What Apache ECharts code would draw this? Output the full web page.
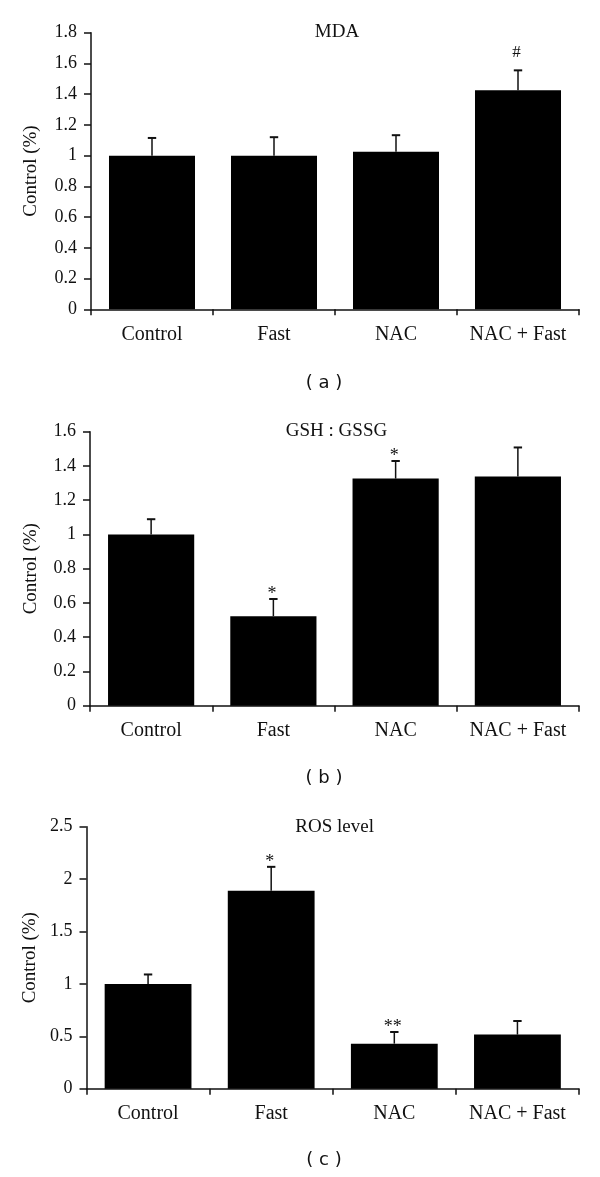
<!DOCTYPE html>
<html>
<head>
<meta charset="utf-8">
<script src="https://cdn.jsdelivr.net/npm/echarts@6/dist/echarts.min.js"></script>
<style>
html,body{margin:0;padding:0;background:#fff;}
#chart{width:600px;height:1177px;}
</style>
</head>
<body>
<div id="chart"></div>
<script>
// ---- data ----
const categories = ['Control', 'Fast', 'NAC', 'NAC + Fast'];

const mdaMean = [1.00, 1.00, 1.025, 1.425];
const mdaSem  = [0.115, 0.12, 0.108, 0.13];
const mdaMarks = ['', '', '', '#'];

const gshMean = [1.00, 0.523, 1.326, 1.338];
const gshSem  = [0.089, 0.10, 0.103, 0.17];
const gshMarks = ['', '*', '*', ''];

const rosMean = [1.00, 1.89, 0.43, 0.516];
const rosSem  = [0.09, 0.227, 0.111, 0.13];
const rosMarks = ['', '*', '**', ''];

const panelTitles = ['MDA', 'GSH : GSSG', 'ROS level'];
const panelLetters = ['( a )', '( b )', '( c )'];
const yAxisName = 'Control (%)';
const yMaxs = [1.8, 1.6, 2.5];
const ySteps = [0.2, 0.2, 0.5];

// ---- layout ----
const grids = [
  {left: 91, top: 32.7, right: 21, height: 276.6},
  {left: 90, top: 431.7, right: 21, height: 274},
  {left: 86.5, top: 826.7, right: 21, height: 262}
];
const nameGaps = [50, 49, 45];
const titlePos = [[337, 31.7], [336.5, 430.7], [334.6, 826.7]];
const letterPos = [[324, 383], [324, 778], [324, 1160]];

const serif = '"Liberation Serif", "Times New Roman", serif';
const ink = '#111';

const means = [mdaMean, gshMean, rosMean];
const sems = [mdaSem, gshSem, rosSem];
const marks = [mdaMarks, gshMarks, rosMarks];

const xAxes = [], yAxes = [], series = [], graphics = [];

for (let p = 0; p < 3; p++) {
  xAxes.push({
    type: 'category', gridIndex: p, data: categories,
    boundaryGap: true,
    axisLine: {show: true, lineStyle: {color: ink, width: 1.5}},
    axisTick: {show: true, interval: 0, alignWithLabel: false, length: 6, lineStyle: {color: ink, width: 1.5}},
    axisLabel: {color: ink, fontFamily: serif, fontSize: 20, margin: 15, interval: 0, hideOverlap: false},
    splitLine: {show: false}
  });
  yAxes.push({
    type: 'value', gridIndex: p, min: 0, max: yMaxs[p], interval: ySteps[p],
    name: yAxisName, nameLocation: 'middle', nameGap: nameGaps[p], nameRotate: 90,
    nameTextStyle: {color: ink, fontFamily: serif, fontSize: 19},
    axisLine: {show: true, lineStyle: {color: ink, width: 1.5}},
    axisTick: {show: true, length: 7, lineStyle: {color: ink, width: 1.5}},
    axisLabel: {color: ink, fontFamily: serif, fontSize: 18, margin: 14},
    splitLine: {show: false}
  });
  series.push({
    type: 'bar', xAxisIndex: p, yAxisIndex: p,
    data: means[p], barCategoryGap: '29.5%',
    itemStyle: {color: '#000'}, z: 2, silent: true
  });
  const errData = means[p].map((m, i) => [i, m, m + sems[p][i], marks[p][i]]);
  series.push({
    type: 'custom', xAxisIndex: p, yAxisIndex: p, z: 3, silent: true,
    data: errData,
    encode: {x: 0, y: [1, 2]},
    renderItem: function (params, api) {
      const i = api.value(0);
      const base = api.coord([i, api.value(1)]);
      const top = api.coord([i, api.value(2)]);
      const sym = errData[params.dataIndex][3];
      const capHalf = 4.2;
      const children = [
        {type: 'line', shape: {x1: base[0], y1: base[1], x2: top[0], y2: top[1]},
         style: {stroke: ink, lineWidth: 1.5}},
        {type: 'line', shape: {x1: top[0] - capHalf, y1: top[1], x2: top[0] + capHalf, y2: top[1]},
         style: {stroke: ink, lineWidth: 2}}
      ];
      if (sym) {
        const isStar = sym.indexOf('*') >= 0;
        const yText = top[1] - (isStar ? 5 : 17.5);
        children.push({
          type: 'text', x: top[0] - 1.5, y: yText,
          style: {text: sym, font: (isStar ? '18px ' : '17px ') + serif, fill: ink,
                  align: 'center', verticalAlign: 'middle',
                  textAlign: 'center', textVerticalAlign: 'middle'}
        });
      }
      return {type: 'group', children: children};
    }
  });
  graphics.push({
    type: 'text', x: titlePos[p][0], y: titlePos[p][1],
    style: {text: panelTitles[p], font: '19px ' + serif, fill: ink,
            align: 'center', verticalAlign: 'middle', textAlign: 'center', textVerticalAlign: 'middle'}
  });
  graphics.push({
    type: 'text', x: letterPos[p][0], y: letterPos[p][1],
    style: {text: panelLetters[p], font: '18px "DejaVu Sans", sans-serif', fill: ink,
            align: 'center', verticalAlign: 'middle', textAlign: 'center', textVerticalAlign: 'middle'}
  });
}

const chart = echarts.init(document.getElementById('chart'), null, {renderer: 'canvas'});
chart.setOption({
  animation: false,
  backgroundColor: '#fff',
  grid: grids,
  xAxis: xAxes,
  yAxis: yAxes,
  series: series,
  graphic: graphics
});
</script>
</body>
</html>
